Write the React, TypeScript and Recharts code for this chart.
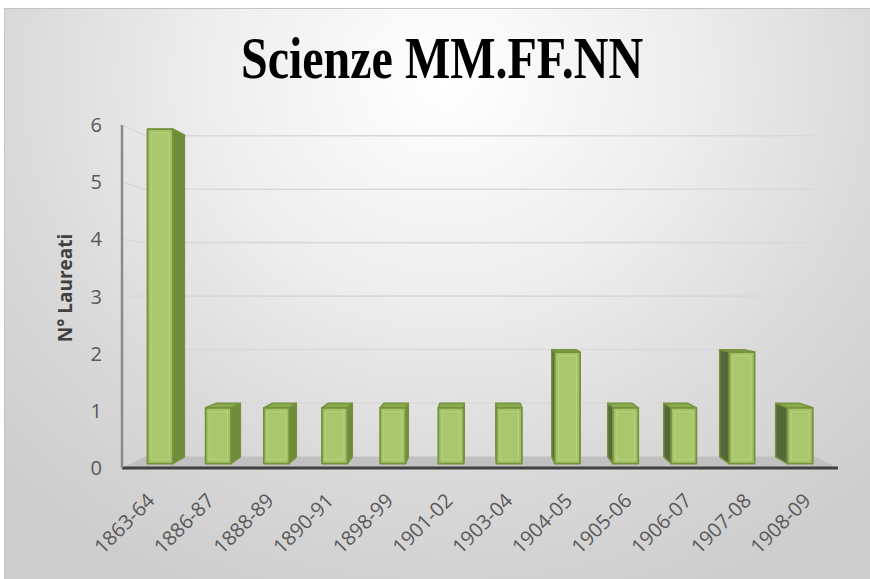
import React from 'react';
import { BarChart, Bar, XAxis, YAxis, CartesianGrid } from 'recharts';

const periods = ['1863-64', '1886-87', '1888-89', '1890-91', '1898-99', '1901-02', '1903-04', '1904-05', '1905-06', '1906-07', '1907-08', '1908-09'];
const laureati = [6, 1, 1, 1, 1, 1, 1, 2, 1, 1, 2, 1];
const yTicks = [0, 1, 2, 3, 4, 5, 6];
const chartTitle = 'Scienze MM.FF.NN';
const yTitle = 'N° Laureati';

const data = periods.map((p, i) => ({ period: p, laureati: laureati[i] }));

// perspective constants (style)
const VX = 478;
const VY = 290;
const TF = 0.025;
const TB = 0.062;
const TW = 0.065;

const proj = (x: number, y: number, t: number): number[] => [x + (VX - x) * t, y + (VY - y) * t];
const pts = (arr: number[][]) => arr.map((p) => p[0].toFixed(2) + ',' + p[1].toFixed(2)).join(' ');

const EDGE = '#76923c';
const FONT = "'Open Sans', sans-serif";

function Bar3D(props: any) {
  const { x, y, width, height } = props;
  if (!height || height <= 0) return null;
  const l = x, r = x + width, top = y, bot = y + height;
  const fTL = proj(l, top, TF), fTR = proj(r, top, TF), fBR = proj(r, bot, TF), fBL = proj(l, bot, TF);
  const bTL = proj(l, top, TB), bTR = proj(r, top, TB), bBR = proj(r, bot, TB), bBL = proj(l, bot, TB);
  const cx = x + width / 2;
  const rightSide = cx < VX;
  const side = rightSide ? [fTR, bTR, bBR, fBR] : [fTL, bTL, bBL, fBL];
  const topFace = [fTL, fTR, bTR, bTL];
  const ins = 3.5;
  const iL = fTL[0] + ins, iR = fTR[0] - ins, iT = fTL[1] + ins, iB = fBL[1] - ins;
  return (
    <g>
      <polygon points={pts(topFace)} fill="#89a94c" stroke={EDGE} strokeWidth={1.5} strokeLinejoin="round" />
      <polygon points={pts(side)} fill={rightSide ? '#6e8c3a' : '#55683a'} stroke={EDGE} strokeWidth={1.5} strokeLinejoin="round" />
      <polygon points={pts([fTL, fTR, fBR, fBL])} fill="#a2c265" stroke={EDGE} strokeWidth={1.8} strokeLinejoin="round" />
      {iR > iL && iB > iT && (
        <rect x={iL} y={iT} width={iR - iL} height={iB - iT} fill="#a9c86e" stroke="#b8d283" strokeWidth={1} />
      )}
    </g>
  );
}

const gridLine = (p: any) => {
  const { x1, x2, y1, index } = p;
  const y = y1;
  const a = proj(x1, y, TW);
  const b = proj(x2, y, TW);
  if (index === 0) {
    return <polygon key={'floor'} points={pts([[x1, y], [x2, y], b, a])} fill="#c0c0c0" />;
  }
  return <polyline key={'g' + index} points={pts([[x1, y], a, b])} fill="none" stroke="#d9d9d9" strokeWidth={1.6} />;
};

const XTick = (props: any) => {
  const { x, y, payload } = props;
  const ax = x + 4;
  const ay = y + 34;
  return (
    <text x={ax} y={ay} transform={`rotate(-45 ${ax} ${ay})`} textAnchor="end" fontSize={20} fill="#595959" fontFamily={FONT}>
      {payload.value}
    </text>
  );
};

const YTitle = () => (
  <text x={72} y={288} transform="rotate(-90 72 288)" textAnchor="middle" fontSize={19} fontWeight="bold" fill="#404040" fontFamily={FONT}>
    {yTitle}
  </text>
);

export default function App() {
  return (
    <div style={{ position: 'absolute', left: 0, top: 0, width: 870, height: 579, overflow: 'hidden', background: '#ffffff' }}>
      <div
        style={{
          position: 'absolute',
          left: 4,
          top: 8,
          width: 880,
          height: 590,
          borderTop: '1px solid #c4c4c4',
          borderLeft: '1px solid #c4c4c4',
          background: 'radial-gradient(ellipse 70% 95% at 50% 12%, #ffffff 0%, #eeeeee 38%, #dadada 70%, #cdcdcd 100%)',
        }}
      />
      <div
        style={{
          position: 'absolute',
          left: 0,
          top: 34,
          width: 884,
          height: 47,
          lineHeight: '47px',
          textAlign: 'center',
          fontFamily: "'Liberation Serif', 'Times New Roman', serif",
          fontWeight: 'bold',
          fontSize: 48,
          color: '#000000',
          transform: 'scaleY(1.25)',
          transformOrigin: 'center',
        }}
      >
        {chartTitle}
      </div>
      <div style={{ position: 'absolute', left: 0, top: 0 }}>
        <BarChart width={870} height={579} data={data} margin={{ top: 125, right: 32, left: 0, bottom: 0 }} barSize={26}>
          <CartesianGrid vertical={false} horizontal={gridLine} horizontalValues={yTicks} />
          <XAxis
            dataKey="period"
            interval={0}
            tickLine={false}
            tickSize={0}
            tickMargin={0}
            height={111}
            axisLine={{ stroke: '#404040', strokeWidth: 3 }}
            tick={<XTick />}
          />
          <YAxis
            domain={[0, 6]}
            ticks={yTicks}
            width={122}
            tickLine={false}
            tickSize={0}
            tickMargin={20}
            axisLine={{ stroke: '#8a8a8a', strokeWidth: 2.5 }}
            tick={{ fontSize: 20, fill: '#595959', fontFamily: FONT }}
            label={{ content: () => <YTitle /> }}
          />
          <Bar dataKey="laureati" isAnimationActive={false} shape={(p: any) => <Bar3D {...p} />} />
        </BarChart>
      </div>
    </div>
  );
}
